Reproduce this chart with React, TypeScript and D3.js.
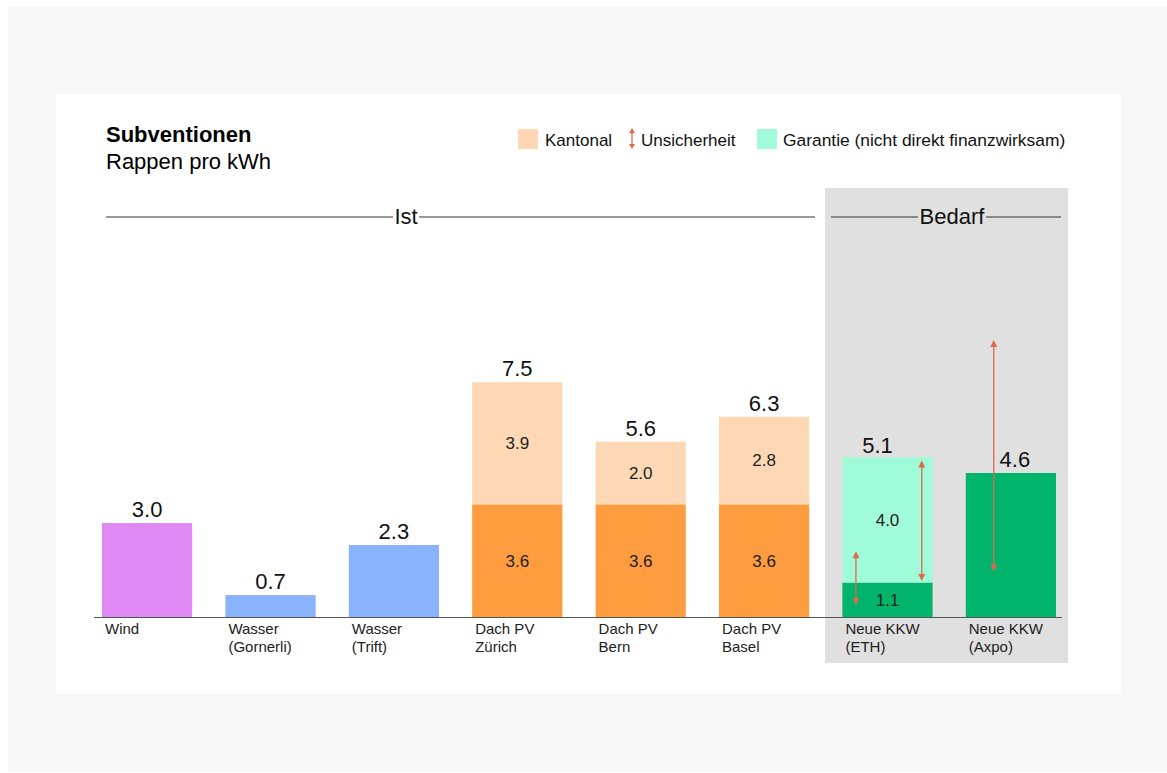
import React from "react";
import * as d3 from "d3";

const categories = [
  "Wind",
  "Wasser\n(Gornerli)",
  "Wasser\n(Trift)",
  "Dach PV\nZürich",
  "Dach PV\nBern",
  "Dach PV\nBasel",
  "Neue KKW\n(ETH)",
  "Neue KKW\n(Axpo)",
];
const baseValues = [3.0, 0.7, 2.3, 3.6, 3.6, 3.6, 1.1, 4.6];
const upperValues = [0, 0, 0, 3.9, 2.0, 2.8, 4.0, 0];
const totalLabels = ["3.0", "0.7", "2.3", "7.5", "5.6", "6.3", "5.1", "4.6"];
const baseColors = ["#de88f3", "#88b3fb", "#88b3fb", "#ff9c40", "#ff9c40", "#ff9c40", "#00b46c", "#00b46c"];
const upperColors = ["", "", "", "#fed8b4", "#fed8b4", "#fed8b4", "#a0fcd8", ""];
const uncertaintyCats = ["Neue KKW\n(ETH)", "Neue KKW\n(ETH)", "Neue KKW\n(Axpo)"];
const uncertaintyLow = [0.38, 1.15, 1.45];
const uncertaintyHigh = [2.1, 5.0, 8.85];
const uncertaintyPos = [0.15, 0.88, 0.31]; // relative position inside band
const legendLabels = ["Kantonal", "Unsicherheit", "Garantie (nicht direkt finanzwirksam)"];
const sections = ["Ist", "Bedarf"];

const FONT = "Arial, 'Liberation Sans', Helvetica, sans-serif";
const ARROW = "#e0694d";

export default function App() {
  const W = 1167, H = 773;
  const x = d3.scaleBand<string>().domain(categories).range([102, 1056]).paddingInner(0.269).paddingOuter(0);
  const y = d3.scaleLinear().domain([0, 9]).range([617, 617 - 9 * 31.3]);
  const bw = x.bandwidth();

  const arrow = (xx: number, y1: number, y2: number, key: string, head = 7, hw = 3.5) => {
    const top = Math.min(y1, y2), bot = Math.max(y1, y2);
    return (
      <g key={key}>
        <line x1={xx} x2={xx} y1={top + head - 1} y2={bot - head + 1} stroke={ARROW} strokeWidth={1.3} />
        <path d={`M${xx},${top} L${xx - hw},${top + head} L${xx + hw},${top + head} Z`} fill={ARROW} />
        <path d={`M${xx},${bot} L${xx - hw},${bot - head} L${xx + hw},${bot - head} Z`} fill={ARROW} />
      </g>
    );
  };

  const labelDx: Record<number, number> = { 6: -10, 7: 4 };
  const labelGap: Record<number, number> = { 6: 4 };

  return (
    <div style={{ position: "fixed", left: 0, top: 0 }}>
      <svg width={W} height={H} style={{ display: "block", fontFamily: FONT }}>
        <rect x={0} y={0} width={W} height={H} fill="#ffffff" />
        <rect x={8} y={7} width={W - 8} height={765} fill="#f8f8f8" />
        <rect x={56} y={94} width={1065} height={600} fill="#ffffff" />
        {/* Bedarf box */}
        <rect x={825} y={188} width={243} height={475} fill="#e0e0e0" />

        {/* Title */}
        <text x={106} y={142} fontSize={22} fontWeight="bold" fill="#000">Subventionen</text>
        <text x={106} y={169} fontSize={22} fill="#000">Rappen pro kWh</text>

        {/* Legend */}
        <rect x={518} y={129} width={20} height={20} fill="#fed8b4" />
        <text x={545} y={146} fontSize={17} fill="#111">{legendLabels[0]}</text>
        {arrow(632, 128, 149, "legend-arrow", 5, 3)}
        <text x={641} y={146} fontSize={17} fill="#111">{legendLabels[1]}</text>
        <rect x={757} y={129} width={20} height={20} fill="#a0fcd8" />
        <text x={783} y={146} fontSize={17.4} fill="#111">{legendLabels[2]}</text>

        {/* Section headers */}
        <line x1={106} x2={393} y1={217} y2={217} stroke="#333" strokeWidth={1} />
        <text x={406} y={224} fontSize={22} textAnchor="middle" fill="#111">{sections[0]}</text>
        <line x1={419} x2={815} y1={217} y2={217} stroke="#333" strokeWidth={1} />
        <line x1={831} x2={918} y1={217} y2={217} stroke="#333" strokeWidth={1} />
        <text x={952} y={224} fontSize={22} textAnchor="middle" fill="#111">{sections[1]}</text>
        <line x1={986} x2={1061} y1={217} y2={217} stroke="#333" strokeWidth={1} />

        {/* Bars */}
        {categories.map((c, i) => {
          const x0 = x(c)!;
          const b = baseValues[i];
          const u = upperValues[i];
          const tot = b + u;
          return (
            <g key={c}>
              <rect x={x0} y={y(b)} width={bw} height={y(0) - y(b)} fill={baseColors[i]} />
              {u > 0 && (
                <rect x={x0} y={y(tot)} width={bw} height={y(b) - y(tot)} fill={upperColors[i]} />
              )}
              {u > 0 && (
                <>
                  <text x={x0 + bw / 2} y={(y(0) + y(b)) / 2} dy="0.35em" fontSize={17} textAnchor="middle" fill="#222">
                    {b.toFixed(1)}
                  </text>
                  <text x={x0 + bw / 2} y={(y(b) + y(tot)) / 2} dy="0.35em" fontSize={17} textAnchor="middle" fill="#222">
                    {u.toFixed(1)}
                  </text>
                </>
              )}
              <text
                x={x0 + bw / 2 + (labelDx[i] || 0)}
                y={y(tot) - (labelGap[i] ?? 6)}
                fontSize={22}
                textAnchor="middle"
                fill="#111"
              >
                {totalLabels[i]}
              </text>
              {c.split("\n").map((line, k) => (
                <text key={k} x={x0 + 3} y={634 + k * 18} fontSize={15} fill="#222">
                  {line}
                </text>
              ))}
            </g>
          );
        })}

        {/* Uncertainty arrows */}
        {uncertaintyCats.map((c, i) =>
          arrow(x(c)! + bw * uncertaintyPos[i], y(uncertaintyHigh[i]), y(uncertaintyLow[i]), "u" + i)
        )}

        {/* Baseline */}
        <line x1={94} x2={1062} y1={617.5} y2={617.5} stroke="#555" strokeWidth={1} />
      </svg>
    </div>
  );
}
